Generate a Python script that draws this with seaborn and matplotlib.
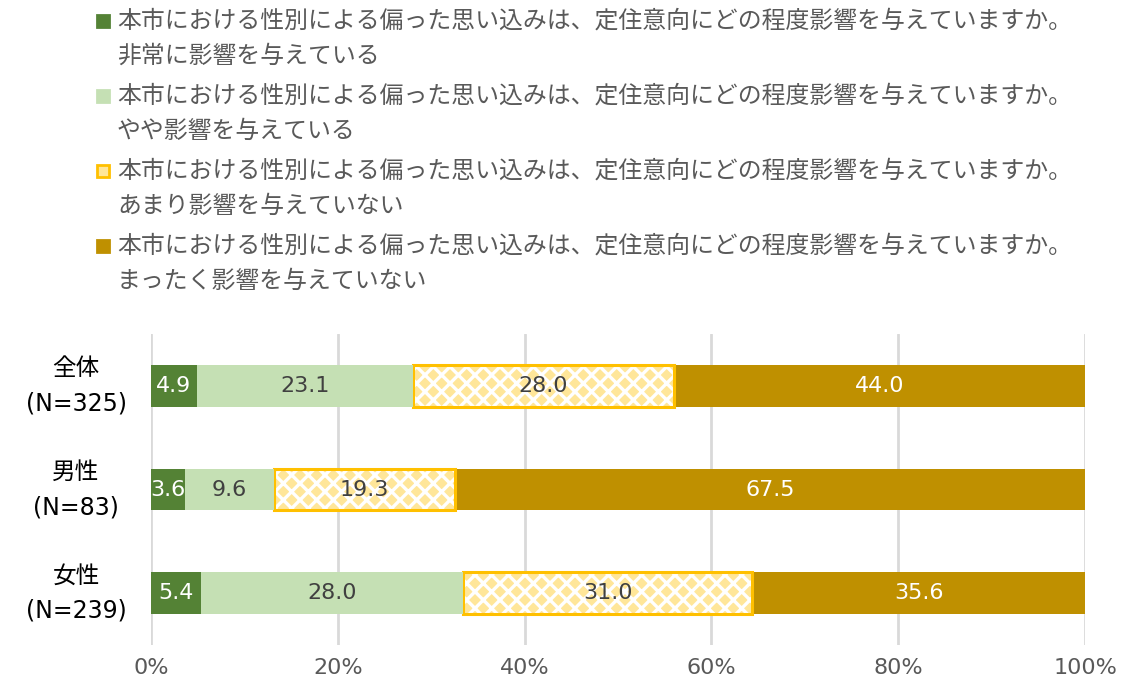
import matplotlib
matplotlib.use("Agg")
import matplotlib.pyplot as plt
import matplotlib.transforms as mtransforms
from matplotlib.patches import Rectangle
import numpy as np
import pandas as pd
import seaborn as sns

# data
categories = ["全体\n(N=325)", "男性\n(N=83)", "女性\n(N=239)"]
very_much = [4.9, 3.6, 5.4]
somewhat = [23.1, 9.6, 28.0]
not_much = [28.0, 19.3, 31.0]
not_at_all = [44.0, 67.5, 35.6]
question = "本市における性別による偏った思い込みは、定住意向にどの程度影響を与えていますか。"
answers = ["非常に影響を与えている", "やや影響を与えている",
           "あまり影響を与えていない", "まったく影響を与えていない"]
x_ticks = [0, 20, 40, 60, 80, 100]

sns.set_theme(style="white")
plt.rcParams['font.family'] = ['DejaVu Sans', 'Noto Sans CJK JP']
plt.rcParams['hatch.linewidth'] = 2.4

c_dark = "#548235"
c_light = "#C5E0B4"
c_hatch = "#FFE699"
c_hedge = "#FFC000"
c_gold = "#BF9000"

df = pd.DataFrame({"cat": categories, "v1": very_much, "v2": somewhat,
                   "v3": not_much, "v4": not_at_all})
df["c1"] = df["v1"]
df["c2"] = df["c1"] + df["v2"]
df["c3"] = df["c2"] + df["v3"]
df["c4"] = df["c3"] + df["v4"]

fig = plt.figure(figsize=(11.35, 6.93), dpi=100)
ax = fig.add_axes([151 / 1135, 1 - 645 / 693, (1085 - 151) / 1135, 311 / 693])

bh = 0.405
pos = np.arange(len(categories))

# stacked layers, back to front
sns.barplot(data=df, x="c4", y="cat", orient="h", color=c_gold,
            saturation=1, width=bh, linewidth=0, ax=ax, zorder=2)
ax.barh(pos, df["v3"], left=df["c2"], height=bh, color=c_hatch,
        edgecolor="white", linewidth=0, hatch="xx", zorder=3)
ax.barh(pos, df["v3"], left=df["c2"], height=bh, fill=False,
        edgecolor=c_hedge, linewidth=2.2, zorder=4)
sns.barplot(data=df, x="c2", y="cat", orient="h", color=c_light,
            saturation=1, width=bh, linewidth=0, ax=ax, zorder=5)
sns.barplot(data=df, x="c1", y="cat", orient="h", color=c_dark,
            saturation=1, width=bh, linewidth=0, ax=ax, zorder=6)

# value labels
segs = [("v1", "c1", "white"), ("v2", "c2", "#404040"),
        ("v3", "c3", "#404040"), ("v4", "c4", "white")]
for vcol, ccol, tc in segs:
    for i in range(len(df)):
        v = df[vcol][i]
        mid = df[ccol][i] - v / 2
        ax.text(mid, i, f"{v:.1f}", ha="center", va="center",
                fontsize=16, color=tc, zorder=10)

ax.set_xlim(0, 100)
ax.set_ylim(2.5, -0.5)
ax.set_xticks(x_ticks)
ax.set_xticklabels([f"{t}%" for t in x_ticks])
ax.set_xlabel("")
ax.set_ylabel("")
ax.tick_params(axis="x", length=0, pad=9, labelsize=16, labelcolor="#595959")
ax.set_yticks(pos)
ax.set_yticklabels([])
ax.tick_params(axis="y", length=0)

# category labels, centred lines like the original
ytrans = mtransforms.blended_transform_factory(fig.transFigure, ax.transData)
for i, cat in enumerate(categories):
    ax.text(76 / 1135, i, cat, transform=ytrans, ha="center",
            va="center", multialignment="center", linespacing=1.6,
            fontsize=17, color="black")

ax.xaxis.grid(True, color="#D9D9D9", linewidth=2)
ax.set_axisbelow(True)
for s in ax.spines.values():
    s.set_visible(False)

# legend drawn by hand (marker sits on the first line)
W, H = 1135, 693
legend_colors = [c_dark, c_light, c_hatch, c_gold]
legend_edges = [c_dark, c_light, c_hedge, c_gold]
y0 = 21
for k, ans in enumerate(answers):
    yc = y0 + 75 * k
    fig.patches.append(Rectangle((97 / W, 1 - (yc + 6) / H), 12 / W, 12 / H,
                                 transform=fig.transFigure, facecolor=legend_colors[k],
                                 edgecolor=legend_edges[k], linewidth=2))
    fig.text(117 / W, 1 - yc / H, question, ha="left", va="center",
             fontsize=17.2, color="#595959")
    fig.text(117 / W, 1 - (yc + 35) / H, ans, ha="left", va="center",
             fontsize=17.2, color="#595959")

fig.savefig("out.png", dpi=100)
